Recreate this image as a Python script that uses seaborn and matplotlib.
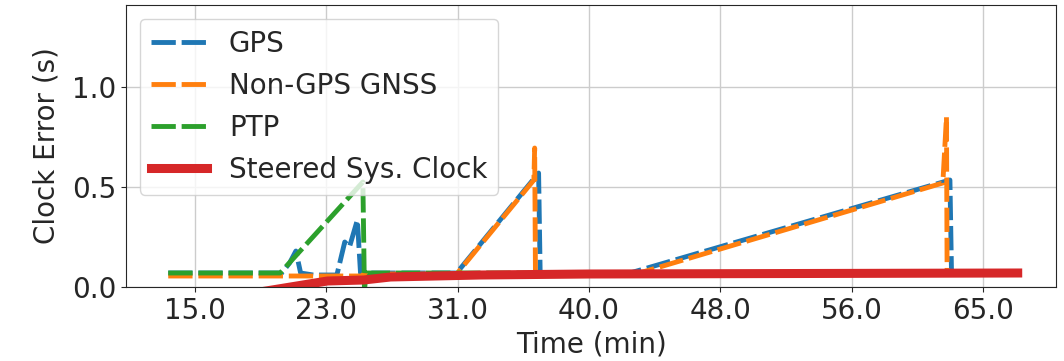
import numpy as np
import pandas as pd
import matplotlib
matplotlib.use("Agg")
import matplotlib.pyplot as plt
import seaborn as sns

# valores (tiempo en minutos, error en segundos)
gps_t = [13.3, 20.5, 21.0, 21.4, 21.7, 22.5, 24.0, 24.5, 24.8, 25.3, 25.5, 31.6, 36.8, 36.9, 42.6, 62.9, 63.0, 67.2]
gps_y = [0.07, 0.07, 0.12, 0.18, 0.07, 0.06, 0.06, 0.225, 0.20, 0.335, 0.07, 0.07, 0.57, 0.07, 0.07, 0.535, 0.07, 0.07]

nongps_t = [13.3, 25.6, 25.7, 31.6, 36.5, 36.55, 36.6, 43.2, 62.45, 62.68, 62.72, 67.2]
nongps_y = [0.055, 0.055, 0.065, 0.065, 0.535, 0.695, 0.07, 0.07, 0.52, 0.85, 0.07, 0.07]

ptp_t = [13.3, 20.4, 25.65, 25.75, 25.85, 31.6, 67.2]
ptp_y = [0.07, 0.07, 0.525, -0.02, 0.07, 0.07, 0.07]

steer_t = [19.5, 23.4, 25.7, 27.4, 33.1, 40.0, 67.2]
steer_y = [-0.02, 0.03, 0.035, 0.05, 0.06, 0.065, 0.07]

xtick_pos = [15.0, 23.33, 31.67, 40.0, 48.33, 56.67, 65.0]
xtick_labels = ["15.0", "23.0", "31.0", "40.0", "48.0", "56.0", "65.0"]
ytick_pos = [0.0, 0.5, 1.0]

sns.set_style("ticks", {"axes.grid": True, "grid.color": "#cccccc", "axes.edgecolor": "0.15"})
plt.rcParams['font.family'] = ['DejaVu Sans']

colores = sns.color_palette("tab10")

fig = plt.figure(figsize=(10.64, 3.61), dpi=100)
ax = fig.add_axes([126 / 1064, 1 - 287 / 361, (1056 - 126) / 1064, (287 - 5) / 361])

series = [
    ("GPS", gps_t, gps_y, colores[0]),
    ("Non-GPS GNSS", nongps_t, nongps_y, colores[1]),
    ("PTP", ptp_t, ptp_y, colores[2]),
]
for nombre, t, y, c in series:
    df = pd.DataFrame({"t": t, "y": y})
    sns.lineplot(data=df, x="t", y="y", ax=ax, color=c, linewidth=3.5,
                 sort=False, estimator=None, label=nombre, dashes=False)
    ax.lines[-1].set_dashes((5, 1.2))

df_s = pd.DataFrame({"t": steer_t, "y": steer_y})
sns.lineplot(data=df_s, x="t", y="y", ax=ax, color=colores[3], linewidth=6.5,
             sort=False, estimator=None, label="Steered Sys. Clock",
             solid_capstyle="projecting")

ax.set_xlim(10.62, 69.63)
ax.set_ylim(0, 1.41)
ax.set_xticks(xtick_pos)
ax.set_xticklabels(xtick_labels)
ax.set_yticks(ytick_pos)
ax.tick_params(labelsize=20)
ax.set_xlabel("Time (min)", fontsize=20, labelpad=4)
ax.set_ylabel("Clock Error (s)", fontsize=20, labelpad=8)
ax.grid(True, color="#cccccc", linewidth=1.0)
for s in ax.spines.values():
    s.set_visible(True)

leg = ax.legend(loc="upper left", fontsize=20)
for h in leg.get_lines()[:3]:
    h.set_dashes((5, 1.2))
leg.get_lines()[3].set_solid_capstyle("projecting")

fig.savefig("out.png", dpi=100)
